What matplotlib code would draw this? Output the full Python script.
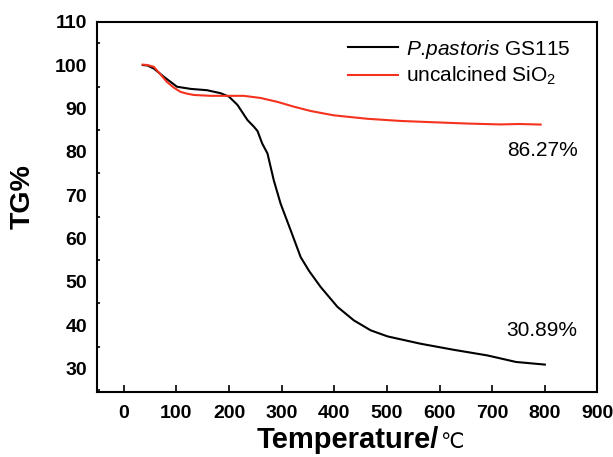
import matplotlib
matplotlib.use('Agg')
import matplotlib.pyplot as plt
from matplotlib.ticker import MultipleLocator

plt.rcParams['font.family'] = ['Liberation Sans', 'DejaVu Sans']
plt.rcParams['mathtext.fontset'] = 'custom'
plt.rcParams['mathtext.it'] = 'Liberation Sans:italic'
plt.rcParams['mathtext.rm'] = 'Liberation Sans'
plt.rcParams['mathtext.default'] = 'regular'

# TG curves
temp_yeast = [36, 45, 57, 76, 101, 127, 158, 184, 200, 216, 235, 247, 254, 263, 273,
              285, 298, 317, 336, 352, 374, 406, 437, 469, 501, 564, 627, 691, 745, 800]
tg_yeast = [100.0, 99.9, 99.2, 97.3, 95.0, 94.5, 94.2, 93.5, 92.7, 90.8, 87.3, 85.8,
            84.8, 81.9, 79.6, 73.4, 68.0, 61.9, 55.7, 52.5, 48.8, 44.2, 41.1, 38.8,
            37.4, 35.7, 34.3, 33.0, 31.5, 30.89]

temp_sio2 = [36, 45, 57, 70, 82, 95, 108, 120, 133, 165, 228, 260, 292, 323, 355,
             399, 463, 526, 589, 653, 716, 751, 792]
tg_sio2 = [100.1, 100.0, 99.6, 97.8, 96.1, 94.8, 93.8, 93.4, 93.1, 92.9, 92.9, 92.4,
           91.5, 90.4, 89.4, 88.4, 87.6, 87.1, 86.8, 86.5, 86.3, 86.4, 86.27]

labels = ['$\\mathit{P}$.$\\mathit{pastoris}$ GS115', 'uncalcined SiO$_2$']
residues = ['86.27%', '30.89%']

fig = plt.figure(figsize=(6.13, 4.57), dpi=100)
ax = fig.add_axes([0.159, 0.1416, 0.8157, 0.8109])

l1, = ax.plot(temp_yeast, tg_yeast, color='black', lw=1.5)
l2, = ax.plot(temp_sio2, tg_sio2, color='#f5321e', lw=1.5)

ax.set_xlim(-50, 900)
ax.set_ylim(24.5, 110)
ax.xaxis.set_major_locator(MultipleLocator(100))
ax.yaxis.set_major_locator(MultipleLocator(10))
ax.yaxis.set_minor_locator(MultipleLocator(5))
ax.tick_params(axis='x', direction='in', length=5, width=1.2, pad=9)
ax.tick_params(axis='y', which='major', length=0, pad=7.5)
ax.tick_params(axis='y', which='minor', direction='in', length=2.5, width=1.2)
for lab in ax.get_xticklabels() + ax.get_yticklabels():
    lab.set_fontweight('bold')
    lab.set_fontsize(14)
for s in ax.spines.values():
    s.set_linewidth(1.5)

# axis titles
base_y = 1 - 448 / 457
xl = fig.text(256.6 / 613, base_y, 'Temperature/', fontsize=21,
              fontweight='bold', ha='left', va='baseline')
fig.canvas.draw()
bb = xl.get_window_extent().transformed(fig.transFigure.inverted())
fig.text(bb.x1 + 0.002, base_y, '\u2103', fontsize=15, ha='left',
         va='baseline', family=['DejaVu Sans'])
fig.text(23 / 613, 1 - 197 / 457, 'TG%', fontsize=20.5, fontweight='bold',
         rotation=90, ha='center', va='center')

ax.legend([l1, l2], labels, loc='center left', bbox_to_anchor=(340 / 613, 1 - 62.5 / 457),
          bbox_transform=fig.transFigure, frameon=False, fontsize=15,
          handlelength=2.4, handletextpad=0.35, borderaxespad=0, labelspacing=0.2)

fig.text(542 / 613, 1 - 151 / 457, residues[0], ha='center', va='center', fontsize=15)
fig.text(542 / 613, 1 - 330 / 457, residues[1], ha='center', va='center', fontsize=15)

fig.savefig('out.png', dpi=100)
